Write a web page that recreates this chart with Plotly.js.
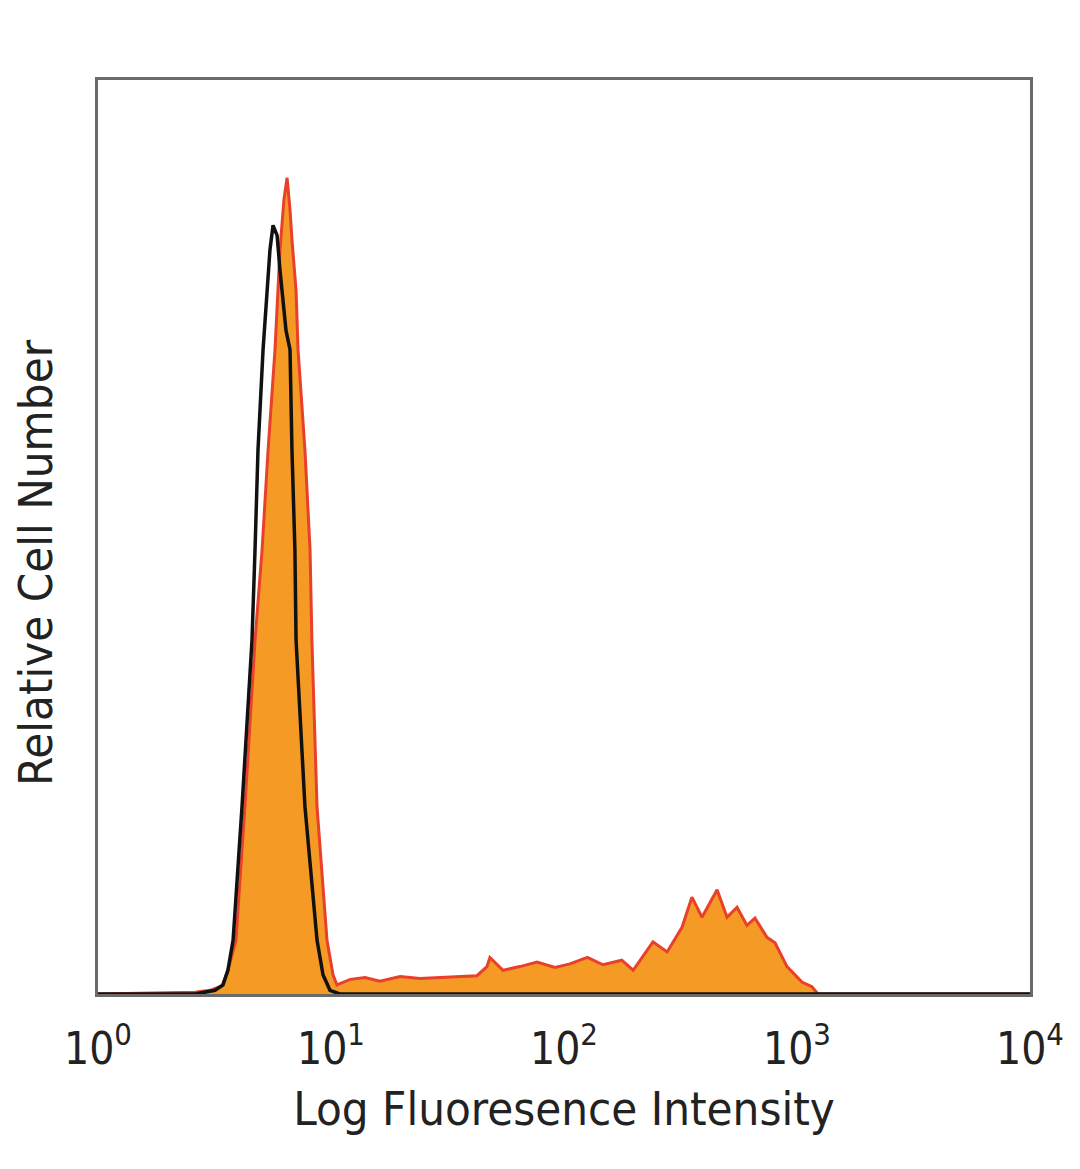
<!DOCTYPE html>
<html>
<head>
<meta charset="utf-8">
<script src="https://cdn.plot.ly/plotly-3.0.1.min.js"></script>
<style>html,body{margin:0;padding:0;background:#fff;}#chart{width:1080px;height:1169px;}</style>
</head>
<body>
<div id="chart"></div>
<script>
// Stained sample (filled orange, red outline): fluorescence intensity vs relative count
var stainedX = [1, 2.61, 3.03, 3.41, 3.61, 3.91, 4.27, 4.72, 5.06, 5.37, 5.75, 6.04, 6.28, 6.48, 6.67, 6.80, 7.08, 7.22, 7.73, 8.13, 8.28, 8.71, 9.61, 10.2, 10.6,
  12.1, 14.0, 16.2, 19.8, 24.1, 29.4, 35.8, 42.3, 46.7, 48.1, 54.7, 64.7, 76.6, 91.5, 106, 126, 147, 177, 198,
  241, 277, 321, 354, 391, 454, 501, 553, 610, 660, 743, 805, 906, 1050, 1159, 1230, 10000];
var stainedY = [0, 0.2, 0.4, 0.9, 2.6, 5.9, 20.5, 38.7, 48.6, 59.5, 70.5, 81.4, 86.9, 89.3, 85.8, 82.5, 77.0, 70.5, 59.5, 48.6, 38.7, 20.5, 5.9, 2.1, 1.0,
  1.6, 1.8, 1.4, 1.9, 1.7, 1.8, 1.9, 2.0, 3.0, 4.0, 2.6, 3.0, 3.5, 2.9, 3.3, 4.0, 3.2, 3.7, 2.6,
  5.7, 4.6, 7.3, 10.6, 8.4, 11.4, 8.4, 9.5, 7.5, 8.3, 6.2, 5.6, 3.0, 1.3, 0.8, 0, 0];

// Isotype control (black outline)
var controlX = [1, 2.61, 3.18, 3.44, 3.61, 3.80, 4.15, 4.58, 4.72, 4.86, 5.11, 5.31, 5.47, 5.64, 5.87, 6.04, 6.41, 6.67, 6.80, 7.00, 7.08, 7.73, 8.71, 9.24, 9.90, 10.9, 10000];
var controlY = [0, 0, 0.4, 1.0, 2.6, 5.9, 20.5, 38.7, 48.6, 59.5, 70.5, 76.7, 81.4, 84.1, 83.0, 79.2, 72.6, 70.5, 59.5, 48.6, 38.7, 20.5, 5.9, 2.1, 0.4, 0, 0];

var tickVals = [1, 10, 100, 1000, 10000];
var tickText = ["10<sup>0</sup>", "10<sup>1</sup>", "10<sup>2</sup>", "10<sup>3</sup>", "10<sup>4</sup>"];
var xTitle = 'Log Fluoresence Intensity';
var yTitle = 'Relative Cell Number';

var fontFam = "'Liberation Sans Narrow', 'DejaVu Sans Condensed', 'Roboto', sans-serif";

var traces = [
  {x: stainedX, y: stainedY, type: 'scatter', mode: 'lines', fill: 'tozeroy',
   fillcolor: '#F59B25', line: {color: '#E8402B', width: 3}, hoverinfo: 'skip'},
  {x: controlX, y: controlY, type: 'scatter', mode: 'lines',
   line: {color: '#111111', width: 3.5}, hoverinfo: 'skip'}
];

var layout = {
  width: 1080, height: 1169,
  margin: {l: 98, r: 50, t: 80, b: 175},
  paper_bgcolor: '#ffffff', plot_bgcolor: '#ffffff',
  showlegend: false,
  font: {family: fontFam, color: '#222222'},
  xaxis: {
    type: 'log', range: [0, 4],
    tickvals: tickVals, ticktext: tickText,
    tickfont: {size: 44, family: fontFam, color: '#222'},
    ticks: '', ticklabelstandoff: 14,
    showgrid: false, zeroline: false,
    showline: true, mirror: true, linecolor: '#6a6a6a', linewidth: 3,
    title: {text: xTitle, font: {size: 47, family: fontFam, color: '#222'}, standoff: 20}
  },
  yaxis: {
    range: [0, 100], showticklabels: false, ticks: '',
    showgrid: false, zeroline: false,
    showline: true, mirror: true, linecolor: '#6a6a6a', linewidth: 3
  },
  annotations: [{
    text: yTitle, textangle: -90, showarrow: false,
    xref: 'paper', yref: 'paper', x: -0.0676, y: 0.4726,
    xanchor: 'center', yanchor: 'middle',
    font: {size: 47, family: fontFam, color: '#222'}
  }]
};

Plotly.newPlot('chart', traces, layout, {displayModeBar: false, staticPlot: true});
</script>
</body>
</html>
